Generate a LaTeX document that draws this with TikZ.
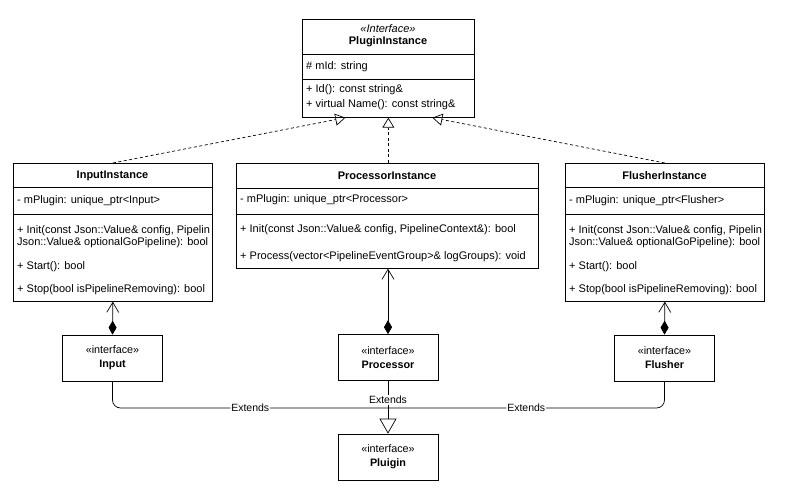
\documentclass[tikz,border=0pt]{standalone}
\usepackage{fontspec}
\setmainfont{Liberation Sans}
\usetikzlibrary{arrows.meta,positioning,calc}
\tikzset{
  classbox/.style={rectangle, draw, line width=0.7pt, fill=white, inner sep=0pt, anchor=north west},
  member/.style={anchor=west, inner sep=0pt, font=\fontsize{11}{12}\selectfont},
  title/.style={inner sep=0pt, font=\fontsize{11}{12}\selectfont\bfseries},
  ifacebox/.style={rectangle, draw, line width=0.7pt, fill=white, minimum width=100pt, minimum height=46pt, align=center, font=\fontsize{10.8}{14}\selectfont},
  realize/.style={dash pattern=on 3pt off 2.5pt, line width=0.7pt, -{Triangle[open, length=10pt, width=12pt]}},
  compose/.style={line width=0.7pt, {Diamond[length=14pt, width=8pt]}-{Straight Barb[length=10pt, width=12pt]}},
  extends/.style={line width=0.7pt, rounded corners=8pt},
  lbl/.style={font=\fontsize{10.5}{10}\selectfont, fill=white, inner sep=1pt},
}
\begin{document}
\begin{tikzpicture}[x=1pt, y=-1pt]
\useasboundingbox (0,0) rectangle (785,489);

% PluginInstance
\node[classbox, minimum width=172pt, minimum height=98pt] (pinst) at (302,19) {};
\draw (pinst.north west) ++(0,35) -- ++(172,0);
\draw (pinst.north west) ++(0,60) -- ++(172,0);
\node[title, font=\fontsize{11}{12}\selectfont\itshape] (pinstst) at (388,29) {<<Interface>>};
\node[title] (pinstname) at (388,42) {PluginInstance};
\node[member] (pinstid) at (306,67) {\# mId: string};
\node[member] (pinstm1) at (306,90) {+ Id(): const string\&};
\node[member] (pinstm2) at (306,105) {+ virtual Name(): const string\&};

% InputInstance
\node[classbox, minimum width=199pt, minimum height=138pt] (ininst) at (13,163) {};
\draw (ininst.north west) ++(0,24) -- ++(199,0);
\draw (ininst.north west) ++(0,51) -- ++(199,0);
\node[title] (ininstname) at (112.5,176) {InputInstance};
\node[member] (ininstattr) at (17,201) {- mPlugin: unique\_ptr<Input>};
\node[member, align=left] (ininstm1) at (17,237) {+ Init(const Json::Value\& config, Pipelin\\Json::Value\& optionalGoPipeline): bool};
\node[member] (ininstm2) at (17,267) {+ Start(): bool};
\node[member] (ininstm3) at (17,290) {+ Stop(bool isPipelineRemoving): bool};

% ProcessorInstance
\node[classbox, minimum width=302pt, minimum height=105pt] (prinst) at (236,163) {};
\draw (prinst.north west) ++(0,25) -- ++(302,0);
\draw (prinst.north west) ++(0,51) -- ++(302,0);
\node[title] (prinstname) at (387,176) {ProcessorInstance};
\node[member] (prinstattr) at (240,200) {- mPlugin: unique\_ptr<Processor>};
\node[member] (prinstm1) at (240,230) {+ Init(const Json::Value\& config, PipelineContext\&): bool};
\node[member] (prinstm2) at (240,257) {+ Process(vector<PipelineEventGroup>\& logGroups): void};

% FlusherInstance
\node[classbox, minimum width=199pt, minimum height=138pt] (flinst) at (565,163) {};
\draw (flinst.north west) ++(0,24) -- ++(199,0);
\draw (flinst.north west) ++(0,51) -- ++(199,0);
\node[title] (flinstname) at (664.5,176) {FlusherInstance};
\node[member] (flinstattr) at (569,201) {- mPlugin: unique\_ptr<Flusher>};
\node[member, align=left] (flinstm1) at (569,237) {+ Init(const Json::Value\& config, Pipelin\\Json::Value\& optionalGoPipeline): bool};
\node[member] (flinstm2) at (569,267) {+ Start(): bool};
\node[member] (flinstm3) at (569,290) {+ Stop(bool isPipelineRemoving): bool};

% interfaces
\node[ifacebox] (inif) at (112.5,358) {«interface»\\\textbf{Input}};
\node[ifacebox] (prif) at (388,357.5) {«interface»\\\textbf{Processor}};
\node[ifacebox] (flif) at (664.5,358) {«interface»\\\textbf{Flusher}};
\node[ifacebox] (plug) at (388,457) {«interface»\\\textbf{Pluigin}};

% realization
\draw[realize] (ininst.north) -- ([xshift=-43pt]pinst.south);
\draw[realize] (prinst.north -| pinst.south) -- (pinst.south);
\draw[realize] (flinst.north) -- ([xshift=44pt]pinst.south);

% composition
\draw[compose] (inif.north) -- (ininst.south);
\draw[compose] (prif.north) -- (prinst.south -| prif.north);
\draw[compose] (flif.north) -- (flinst.south);

% extends
\coordinate (join) at (388,408);
\draw[extends] (inif.south) |- (join) node[lbl, pos=0.75] {Extends};
\draw[extends] (flif.south) |- (join) node[lbl, pos=0.75] {Extends};
\draw[line width=0.7pt, -{Triangle[open, length=15pt, width=17pt]}] (prif.south) -- (plug.north) node[lbl, pos=0.36] {Extends};

\end{tikzpicture}
\end{document}
